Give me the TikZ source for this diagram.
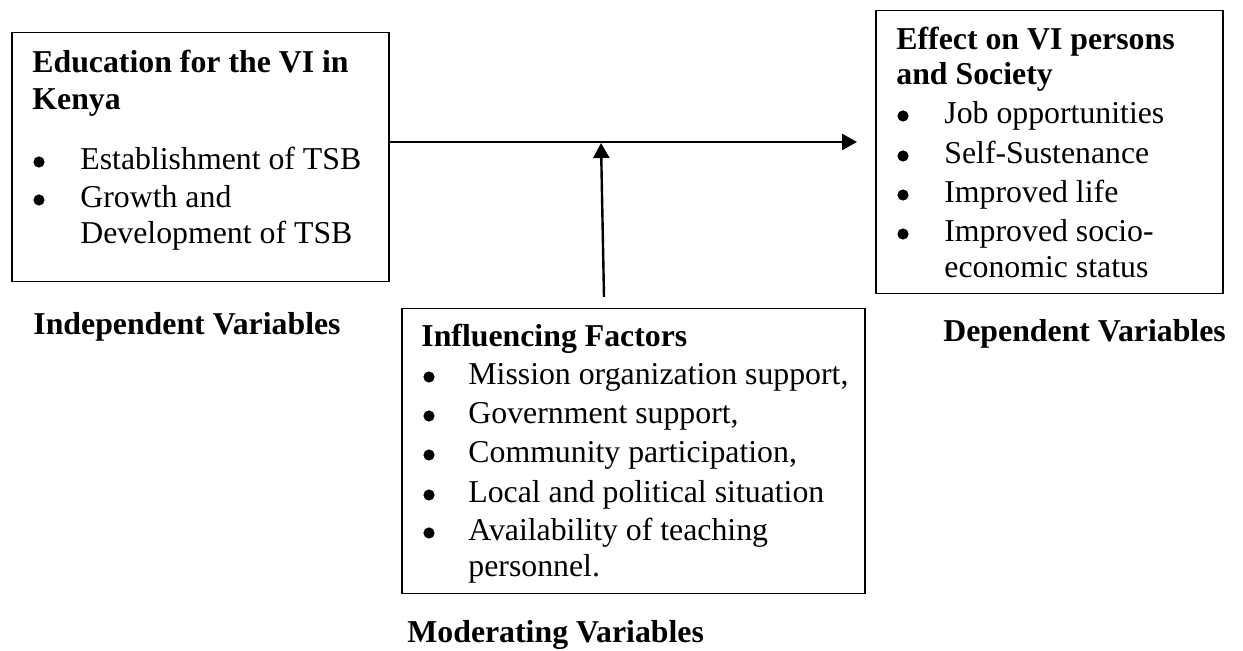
\documentclass[tikz,border=0pt]{standalone}
\usepackage{fontspec}
\setmainfont{Liberation Serif}
\usetikzlibrary{arrows.meta}
\tikzset{
  box/.style={draw, line width=0.75pt, inner sep=0pt, anchor=north west},
  txt/.style={anchor=base west, inner sep=0pt, font=\fontsize{15.9pt}{19pt}\selectfont},
  hd/.style={txt, font=\fontsize{15.9pt}{19pt}\selectfont\bfseries},
  arr/.style={-{Triangle[length=7.5pt,width=8pt]}, line width=1.2pt}
}
\newcommand{\bigdot}{\tikz[baseline=0pt,x=1pt,y=1pt]\fill (2.8,4) circle [radius=2.8];}
\newcommand{\bul}[1]{\makebox[23.5pt][l]{\bigdot}#1}
\newcommand{\bulm}[1]{\makebox[22.5pt][l]{\bigdot}#1}
\begin{document}
\begin{tikzpicture}[x=0.5pt,y=-0.5pt]
\useasboundingbox (0,0) rectangle (1243,651);
% boxes
\node[box, minimum width=188.5pt, minimum height=124.5pt] (ind) at (11,32) {};
\node[box, minimum width=173.5pt, minimum height=141.5pt] (dep) at (875,10) {};
\node[box, minimum width=231.5pt, minimum height=142.5pt] (mod) at (401,308) {};
% left box text
\node[hd] (i1) at (32,73) {Education for the VI in};
\node[hd] (i2) at (32,110) {Kenya};
\node[txt] (i3) at (33,170) {\bul{Establishment of TSB}};
\node[txt] (i4) at (33,208) {\bul{Growth and}};
\node[txt] (i5) at (80,244) {Development of TSB};
\node[hd] (il) at (33,335) {Independent Variables};
% right box text
\node[hd] (d1) at (896,50) {Effect on VI persons};
\node[hd] (d2) at (896,85) {and Society};
\node[txt] (d3) at (897,124) {\bul{Job opportunities}};
\node[txt] (d4) at (897,164) {\bul{Self-Sustenance}};
\node[txt] (d5) at (897,203) {\bul{Improved life}};
\node[txt] (d6) at (897,242) {\bul{Improved socio-}};
\node[txt] (d7) at (944,278) {economic status};
\node[hd] (dl) at (943,342) {Dependent Variables};
% moderating box text
\node[hd] (m1) at (421,347) {Influencing Factors};
\node[txt] (m2) at (423,385) {\bulm{Mission organization support,}};
\node[txt] (m3) at (423,424) {\bulm{Government support,}};
\node[txt] (m4) at (423,463) {\bulm{Community participation,}};
\node[txt] (m5) at (423,503) {\bulm{Local and political situation}};
\node[txt] (m6) at (423,541) {\bulm{Availability of teaching}};
\node[txt] (m7) at (468,577) {personnel.};
\node[hd] (ml) at (407,643) {Moderating Variables};
% connectors
\coordinate (hend) at (857,142);
\coordinate (vstart) at (604,297);
\coordinate (vend) at (601,143);
\draw[arr] (ind.east |- hend) -- (hend);
\draw[arr] (vstart) -- (vend);
\end{tikzpicture}
\end{document}
